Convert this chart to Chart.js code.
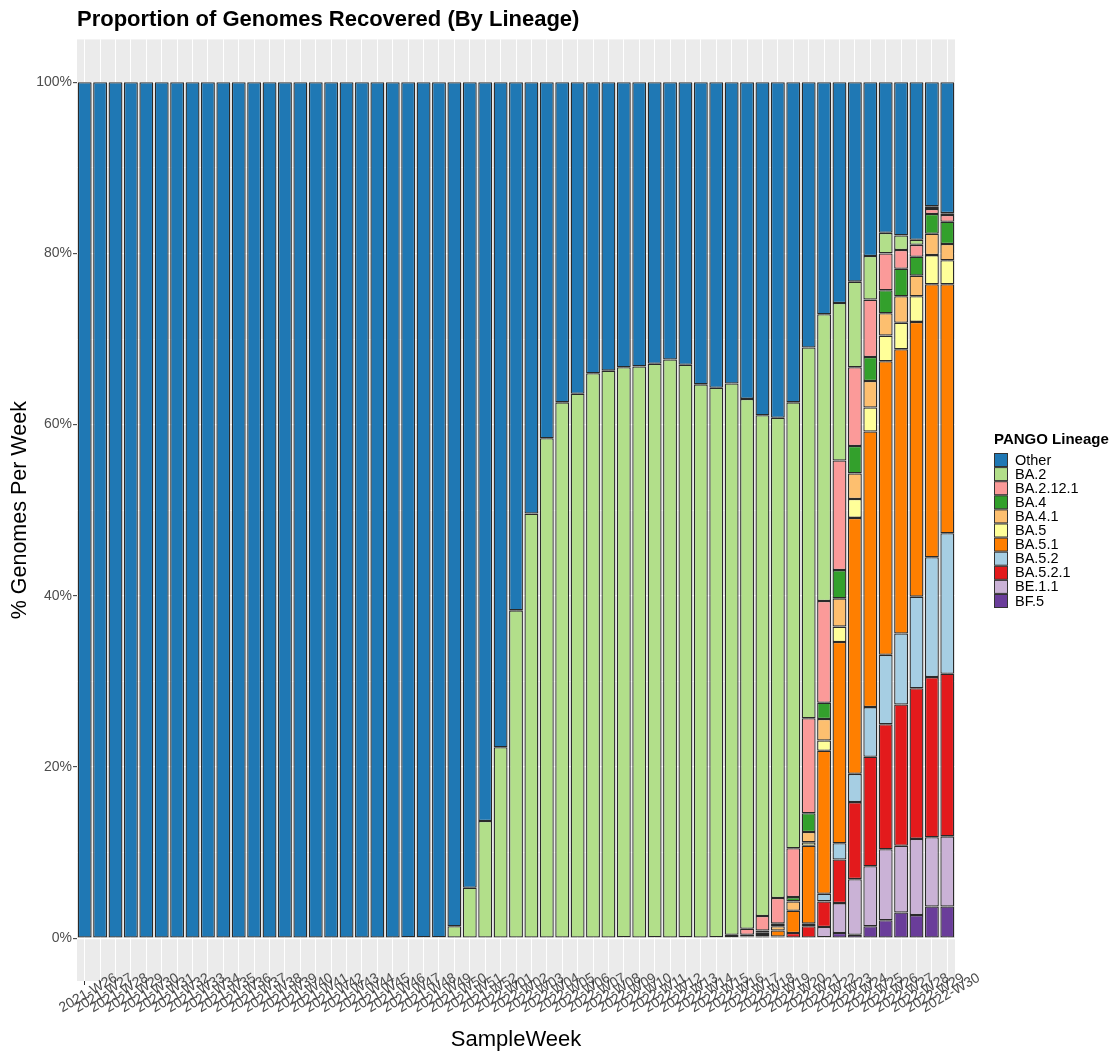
<!DOCTYPE html>
<html>
<head>
<meta charset="utf-8">
<title>Proportion of Genomes Recovered (By Lineage)</title>
<script src="https://cdn.jsdelivr.net/npm/chart.js@4.4.1/dist/chart.umd.min.js"></script>
<style>
  html, body { margin: 0; padding: 0; background: #ffffff; }
  #wrap { width: 1111px; height: 1053px; }
</style>
</head>
<body>
<div id="wrap"><canvas id="lineageChart" width="1111" height="1053"></canvas></div>
<script>
// ggplot-ish look
Chart.defaults.font.family = '"Liberation Sans", Arial, Helvetica, sans-serif';
Chart.defaults.color = '#4D4D4D';

const sampleWeeks = [
    "2021-W26", "2021-W27", "2021-W28", "2021-W29", "2021-W30", "2021-W31", "2021-W32", "2021-W33", "2021-W34", "2021-W35",
    "2021-W36", "2021-W37", "2021-W38", "2021-W39", "2021-W40", "2021-W41", "2021-W42", "2021-W43", "2021-W44", "2021-W45",
    "2021-W46", "2021-W47", "2021-W48", "2021-W49", "2021-W50", "2021-W51", "2021-W52", "2022-W01", "2022-W02", "2022-W03",
    "2022-W04", "2022-W05", "2022-W06", "2022-W07", "2022-W08", "2022-W09", "2022-W10", "2022-W11", "2022-W12", "2022-W13",
    "2022-W14", "2022-W15", "2022-W16", "2022-W17", "2022-W18", "2022-W19", "2022-W20", "2022-W21", "2022-W22", "2022-W23",
    "2022-W24", "2022-W25", "2022-W26", "2022-W27", "2022-W28", "2022-W29", "2022-W30"
];

// % of genomes per week, one array per lineage
const other = [
    100, 100, 100, 100, 100, 100, 100, 100, 100, 100,
    100, 100, 100, 100, 100, 100, 100, 100, 100, 100,
    100, 99.9, 99.9, 99.9, 98.6, 94.1, 86.3, 77.7, 61.7, 50.4,
    41.6, 37.4, 36.4, 34.0, 33.7, 33.3, 33.2, 32.9, 32.4, 33.0,
    35.3, 35.7, 35.2, 37.0, 38.9, 39.2, 37.4, 31.0, 27.1, 25.8,
    23.3, 20.3, 17.6, 17.9, 18.4, 14.5, 15.3
];
const ba2 = [
    0, 0, 0, 0, 0, 0, 0, 0, 0, 0,
    0, 0, 0, 0, 0, 0, 0, 0, 0, 0,
    0, 0.1, 0.1, 0.1, 1.4, 5.9, 13.7, 22.3, 38.3, 49.6,
    58.4, 62.6, 63.6, 66.0, 66.3, 66.6, 66.8, 67.0, 67.6, 66.9,
    64.7, 64.2, 64.4, 61.9, 58.5, 56.1, 52.1, 43.3, 33.5, 18.4,
    10.0, 5.1, 2.4, 1.7, 0.6, 0.3, 0.2
];
const ba2121 = [
    0, 0, 0, 0, 0, 0, 0, 0, 0, 0,
    0, 0, 0, 0, 0, 0, 0, 0, 0, 0,
    0, 0, 0, 0, 0, 0, 0, 0, 0, 0,
    0, 0, 0, 0, 0, 0.1, 0, 0.1, 0, 0.1,
    0, 0.1, 0.3, 0.7, 1.7, 3.0, 5.7, 11.1, 11.9, 12.8,
    9.2, 6.7, 4.3, 2.2, 1.4, 0.6, 0.8
];
const zeros40 = [
    0, 0, 0, 0, 0, 0, 0, 0, 0, 0,
    0, 0, 0, 0, 0, 0, 0, 0, 0, 0,
    0, 0, 0, 0, 0, 0, 0, 0, 0, 0,
    0, 0, 0, 0, 0, 0, 0, 0, 0, 0
];
const ba4   = zeros40.concat([0, 0, 0.1, 0.2, 0.2, 0.3, 0.5, 2.2, 1.9, 3.3, 3.2, 2.8, 2.7, 3.2, 2.2, 2.3, 2.6]);
const ba41  = zeros40.concat([0, 0, 0, 0.1, 0.2, 0.5, 1.1, 1.2, 2.5, 3.3, 3.0, 3.1, 2.6, 3.1, 2.4, 2.5, 1.9]);
const ba5   = zeros40.concat([0, 0, 0, 0, 0, 0, 0, 0.4, 1.2, 1.8, 2.2, 2.8, 3.0, 3.1, 3.0, 3.4, 2.8]);
const ba51  = zeros40.concat([0, 0, 0, 0.1, 0.3, 0.7, 2.6, 9.1, 16.7, 23.5, 29.9, 32.2, 34.3, 33.2, 32.1, 31.9, 29.1]);
const ba52  = zeros40.concat([0, 0, 0, 0, 0, 0, 0, 0.3, 0.9, 1.9, 3.3, 5.8, 8.1, 8.3, 10.7, 14.0, 16.4]);
const ba521 = zeros40.concat([0, 0, 0, 0, 0.2, 0.2, 0.6, 1.4, 3.0, 5.1, 9.0, 12.8, 14.6, 16.5, 17.6, 18.7, 19.0]);
const be11  = zeros40.concat([0, 0, 0, 0, 0, 0, 0, 0, 1.2, 3.5, 6.5, 7.0, 8.3, 7.8, 8.9, 8.1, 8.2]);
const bf5   = zeros40.concat([0, 0, 0, 0, 0, 0, 0, 0, 0.1, 0.6, 0.4, 1.4, 2.1, 3.0, 2.7, 3.7, 3.7]);

const yTicks = [0, 20, 40, 60, 80, 100];

// legend order (top of stack first), colours from RColorBrewer "Paired"
const lineages = [
    { name: "Other",     color: "#1F78B4", data: other },
    { name: "BA.2",      color: "#B2DF8A", data: ba2 },
    { name: "BA.2.12.1", color: "#FB9A99", data: ba2121 },
    { name: "BA.4",      color: "#33A02C", data: ba4 },
    { name: "BA.4.1",    color: "#FDBF6F", data: ba41 },
    { name: "BA.5",      color: "#FFFF99", data: ba5 },
    { name: "BA.5.1",    color: "#FF7F00", data: ba51 },
    { name: "BA.5.2",    color: "#A6CEE3", data: ba52 },
    { name: "BA.5.2.1",  color: "#E31A1C", data: ba521 },
    { name: "BE.1.1",    color: "#CAB2D6", data: be11 },
    { name: "BF.5",      color: "#6A3D9A", data: bf5 },
];

// Chart.js stacks the first dataset at the bottom, so reverse
const datasets = lineages.slice().reverse().map(l => ({
    label: l.name,
    data: l.data.map(v => (v === 0 ? null : v)),
    backgroundColor: l.color,
    borderColor: "#2A2A2A",
    borderWidth: 1.3,
    borderSkipped: false,
    inflateAmount: 0,
    barPercentage: 0.9,
    categoryPercentage: 1.0,
}));

const panelBackground = {
    id: 'panelBackground',
    beforeDraw(chart) {
        const { ctx, chartArea: a } = chart;
        ctx.save();
        ctx.fillStyle = '#EBEBEB';
        ctx.fillRect(a.left, a.top, a.right - a.left, a.bottom - a.top);
        ctx.restore();
    }
};

// rotated week labels centred on the tick, like ggplot angle=30
const weekLabels = {
    id: 'weekLabels',
    afterDraw(chart) {
        const { ctx, chartArea: a } = chart;
        const xs = chart.scales.x;
        ctx.save();
        ctx.font = '14px "Liberation Sans", Arial, sans-serif';
        ctx.fillStyle = '#4D4D4D';
        ctx.textAlign = 'center';
        ctx.textBaseline = 'top';
        sampleWeeks.forEach((w, i) => {
            const x = xs.getPixelForValue(i);
            ctx.save();
            ctx.translate(x, a.bottom + 6);
            ctx.rotate(-30 * Math.PI / 180);
            ctx.fillText(w, 0, 0);
            ctx.restore();
        });
        ctx.restore();
    }
};

const ggLegend = {
    id: 'ggLegend',
    afterDraw(chart) {
        const { ctx, chartArea: a } = chart;
        const x0 = a.right + 39;
        const top = 453;
        const step = 14.1;
        ctx.save();
        ctx.fillStyle = '#000000';
        ctx.font = 'bold 15px "Liberation Sans", Arial, sans-serif';
        ctx.textAlign = 'left';
        ctx.textBaseline = 'middle';
        ctx.fillText('PANGO Lineage', x0, 440);
        ctx.font = '14.5px "Liberation Sans", Arial, sans-serif';
        lineages.forEach((l, k) => {
            const y = top + k * step;
            ctx.fillStyle = l.color;
            ctx.fillRect(x0 + 0.5, y + 0.5, 13, 13);
            ctx.strokeStyle = '#333333';
            ctx.lineWidth = 1;
            ctx.strokeRect(x0 + 0.5, y + 0.5, 13, 13);
            ctx.fillStyle = '#000000';
            ctx.fillText(l.name, x0 + 21, y + 7.5);
        });
        ctx.restore();
    }
};

const lineageConfig = {
    type: 'bar',
    data: {
        labels: sampleWeeks,
        datasets: datasets
    },
    options: {
        responsive: false,
        animation: false,
        devicePixelRatio: 1,
        layout: {
            padding: { left: 0, right: 156, top: 0, bottom: 0 }
        },
        scales: {
            x: {
                type: 'category',
                stacked: true,
                offset: true,
                border: { display: false },
                grid: {
                    offset: false,
                    color: '#FFFFFF',
                    lineWidth: 1,
                    drawTicks: true,
                    tickLength: 4,
                    tickColor: '#333333',
                    tickWidth: 1
                },
                ticks: { display: false, autoSkip: false },
                title: {
                    display: true,
                    text: 'SampleWeek',
                    color: '#000000',
                    font: { size: 22 },
                    padding: { top: 0, bottom: 0 }
                },
                afterFit(scale) { scale.height = 72; }
            },
            y: {
                stacked: true,
                min: -5,
                max: 105,
                border: { display: false },
                afterBuildTicks(scale) {
                    const t = [];
                    for (let v = 0; v <= 100; v += 10) t.push({ value: v });
                    scale.ticks = t;
                },
                grid: {
                    color: '#FFFFFF',
                    lineWidth: c => (yTicks.includes(c.tick.value) ? 1.3 : 0.6),
                    drawTicks: true,
                    tickLength: 4,
                    tickColor: c => (yTicks.includes(c.tick.value) ? '#333333' : 'rgba(0,0,0,0)'),
                    tickWidth: 1
                },
                ticks: {
                    padding: 1,
                    color: '#4D4D4D',
                    font: { size: 14 },
                    callback: v => (yTicks.includes(v) ? v + '%' : '')
                },
                title: {
                    display: true,
                    text: '% Genomes Per Week',
                    color: '#000000',
                    font: { size: 21.5 },
                    padding: { top: 7, bottom: 0 }
                },
                afterFit(scale) { scale.width = 77; }
            }
        },
        plugins: {
            legend: { display: false },
            tooltip: { enabled: false },
            title: {
                display: true,
                fullSize: false,
                align: 'start',
                text: 'Proportion of Genomes Recovered (By Lineage)',
                color: '#000000',
                font: { size: 22, weight: 'bold' },
                padding: { top: 7, bottom: 6 }
            }
        }
    },
    plugins: [panelBackground, weekLabels, ggLegend]
};

var ctx = document.getElementById("lineageChart");
var lineageChart = new Chart(ctx, lineageConfig);
</script>
</body>
</html>
